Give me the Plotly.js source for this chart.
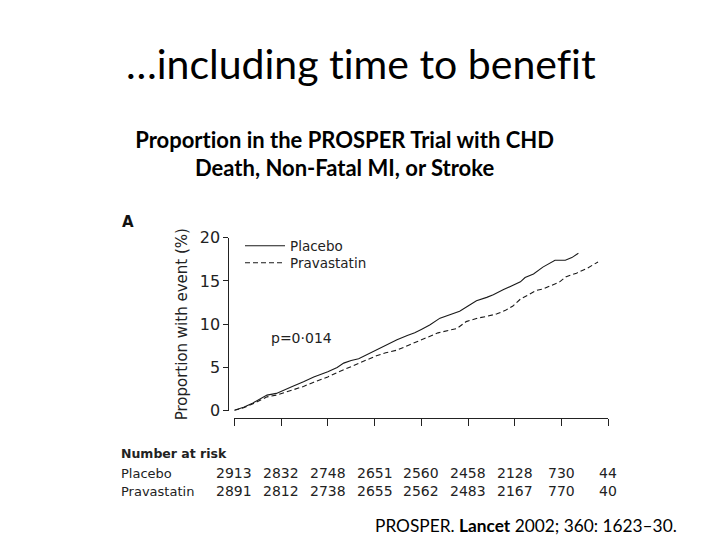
<!DOCTYPE html>
<html>
<head>
<meta charset="utf-8">
<script src="https://cdn.plot.ly/plotly-3.0.1.min.js"></script>
<style>
html,body{margin:0;padding:0;background:#fff;}
#chart{width:720px;height:540px;}
#chart text{font-variant-ligatures:none;font-feature-settings:"liga" 0, "clig" 0;}
</style>
</head>
<body>
<div id="chart"></div>
<script>
// Time (years) and cumulative event proportion (%)
const placeboTime = [0, 0.1, 0.2, 0.35, 0.45, 0.52, 0.62, 0.74, 0.85, 1.0, 1.1, 1.17, 1.25, 1.33, 1.42, 1.49, 1.6, 1.74, 1.85, 1.93, 2.0, 2.09, 2.2, 2.3, 2.41, 2.5, 2.59, 2.7, 2.77, 2.88, 2.98, 3.06, 3.11, 3.2, 3.3, 3.36, 3.43, 3.54, 3.61, 3.68];
const placeboPct  = [0.05, 0.4, 0.9, 1.8, 2.0, 2.3, 2.8, 3.35, 3.9, 4.5, 5.0, 5.5, 5.8, 6.0, 6.5, 6.9, 7.5, 8.2, 8.7, 9.0, 9.4, 9.9, 10.7, 11.1, 11.5, 12.1, 12.7, 13.1, 13.4, 14.0, 14.5, 14.9, 15.4, 15.8, 16.6, 17.0, 17.4, 17.4, 17.7, 18.2];
const pravaTime = [0, 0.1, 0.2, 0.35, 0.45, 0.52, 0.62, 0.74, 0.85, 1.0, 1.12, 1.24, 1.38, 1.52, 1.62, 1.74, 1.87, 2.0, 2.1, 2.18, 2.3, 2.38, 2.48, 2.6, 2.7, 2.81, 2.9, 2.98, 3.06, 3.13, 3.23, 3.31, 3.4, 3.48, 3.55, 3.66, 3.78, 3.89];
const pravaPct  = [0.03, 0.35, 0.8, 1.6, 1.8, 2.05, 2.4, 2.8, 3.3, 3.9, 4.5, 5.05, 5.7, 6.35, 6.7, 7.0, 7.6, 8.2, 8.6, 9.0, 9.3, 9.5, 10.3, 10.7, 10.9, 11.2, 11.6, 12.1, 12.9, 13.3, 13.9, 14.1, 14.5, 14.9, 15.5, 15.9, 16.5, 17.2];

// Number at risk
const riskTimes = [0, 0.5, 1, 1.5, 2, 2.5, 3, 3.5, 4];
const riskPlacebo = [2913, 2832, 2748, 2651, 2560, 2458, 2128, 730, 44];
const riskPrava   = [2891, 2812, 2738, 2655, 2562, 2483, 2167, 770, 40];

const W = 720, H = 540;
const px = v => v / W;
const py = v => 1 - v / H;

const traces = [
  {x: placeboTime, y: placeboPct, type: 'scatter', mode: 'lines', name: 'Placebo', legend: 'legend',
   line: {color: '#1a1a1a', width: 1.1}},
  {x: pravaTime, y: pravaPct, type: 'scatter', mode: 'lines', name: 'Pravastatin', legend: 'legend2',
   line: {color: '#1a1a1a', width: 1.1, dash: '5px,3px'}}
];

const fig = 'DejaVu Sans, sans-serif';
const slide = 'Lato, Carlito, Calibri, sans-serif';

const annotations = [
  {text: '…including time to benefit', xref: 'paper', yref: 'paper', x: px(360.5), y: py(64),
   xanchor: 'center', yanchor: 'middle', showarrow: false, font: {family: slide, size: 41, color: '#000'}},
  {text: '<b>Proportion in the PROSPER Trial with CHD</b>', xref: 'paper', yref: 'paper', x: px(344), y: py(139),
   xanchor: 'center', yanchor: 'middle', showarrow: false, font: {family: slide, size: 22, color: '#000'}},
  {text: '<b>Death, Non-Fatal MI, or Stroke</b>', xref: 'paper', yref: 'paper', x: px(344), y: py(167),
   xanchor: 'center', yanchor: 'middle', showarrow: false, font: {family: slide, size: 22, color: '#000'}},
  {text: '<b>A</b>', xref: 'paper', yref: 'paper', x: px(128), y: py(222),
   xanchor: 'center', yanchor: 'middle', showarrow: false, font: {family: fig, size: 15, color: '#111'}},
  {text: 'p=0·014', xref: 'paper', yref: 'paper', x: px(269), y: py(338),
   xanchor: 'left', yanchor: 'middle', showarrow: false, font: {family: fig, size: 14, color: '#222'}},
  {text: '<b>Number at risk</b>', xref: 'paper', yref: 'paper', x: px(119), y: py(453),
   xanchor: 'left', yanchor: 'middle', showarrow: false, font: {family: fig, size: 12.5, color: '#222'}},
  {text: 'Placebo', xref: 'paper', yref: 'paper', x: px(119), y: py(473),
   xanchor: 'left', yanchor: 'middle', showarrow: false, font: {family: fig, size: 13, color: '#222'}},
  {text: 'Pravastatin', xref: 'paper', yref: 'paper', x: px(119), y: py(491),
   xanchor: 'left', yanchor: 'middle', showarrow: false, font: {family: fig, size: 13, color: '#222'}},
  {text: 'PROSPER. <b>Lancet</b> 2002; 360: 1623–30.', xref: 'paper', yref: 'paper', x: px(373), y: py(525),
   xanchor: 'left', yanchor: 'middle', showarrow: false, font: {family: slide, size: 17.3, color: '#000'}}
];
riskTimes.forEach((t, i) => {
  annotations.push({text: String(riskPlacebo[i]), xref: 'x', yref: 'paper', x: t, y: py(473),
    xanchor: 'center', yanchor: 'middle', showarrow: false, font: {family: fig, size: 14, color: '#222'}});
  annotations.push({text: String(riskPrava[i]), xref: 'x', yref: 'paper', x: t, y: py(491),
    xanchor: 'center', yanchor: 'middle', showarrow: false, font: {family: fig, size: 14, color: '#222'}});
});

const legendBase = {xanchor: 'left', yanchor: 'middle', bgcolor: 'rgba(0,0,0,0)',
  font: {family: fig, size: 13.5, color: '#222'}, itemwidth: 40, borderwidth: 0};

const layout = {
  width: W, height: H,
  margin: {l: 0, r: 0, t: 0, b: 0},
  paper_bgcolor: '#fff', plot_bgcolor: '#fff',
  showlegend: true,
  legend: Object.assign({}, legendBase, {x: px(240), y: py(246)}),
  legend2: Object.assign({}, legendBase, {x: px(240), y: py(263)}),
  xaxis: {
    domain: [px(234.3), px(608.3)], range: [0, 4],
    tickvals: riskTimes, showticklabels: false,
    ticks: 'outside', ticklen: 7, tickcolor: '#222', tickwidth: 1,
    showline: true, linecolor: '#222', linewidth: 1,
    showgrid: false, zeroline: false,
    anchor: 'free', position: 1 - 418.3 / H
  },
  yaxis: {
    domain: [1 - 410.7 / H, 1 - 237.7 / H], range: [0, 20],
    tickvals: [0, 5, 10, 15, 20],
    ticks: 'outside', ticklen: 5, tickcolor: '#222', tickwidth: 1,
    tickfont: {family: fig, size: 16, color: '#222'},
    showline: true, linecolor: '#222', linewidth: 1,
    showgrid: false, zeroline: false,
    anchor: 'free', position: 228.3 / W,
    title: {text: 'Proportion with event (%)', font: {family: fig, size: 15, color: '#222'}, standoff: 7}
  },
  annotations: annotations
};

Plotly.newPlot('chart', traces, layout, {displayModeBar: false, staticPlot: true});
</script>
</body>
</html>
